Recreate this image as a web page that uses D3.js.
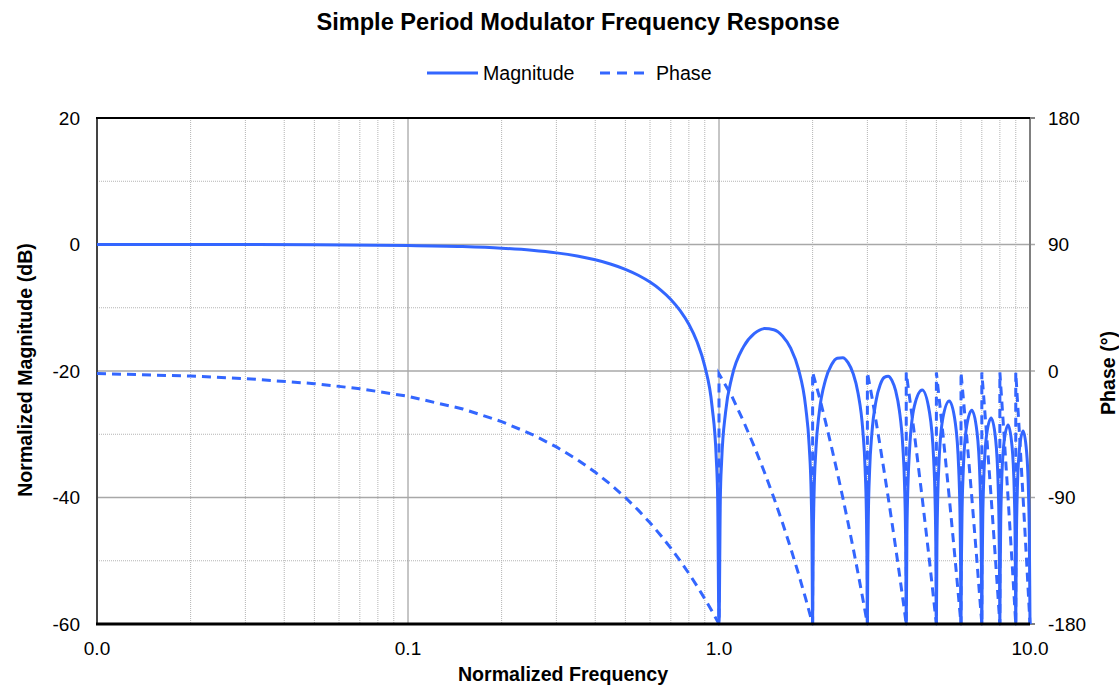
<!DOCTYPE html>
<html>
<head>
<meta charset="utf-8">
<script src="https://cdn.jsdelivr.net/npm/d3@7/dist/d3.min.js"></script>
<style>
body { margin: 0; background: white; }
text { font-family: "Liberation Sans", Arial, sans-serif; fill: #000; }
</style>
</head>
<body>
<svg id="chart"></svg>
<script>
// magnitude (dB), clipped at -60 at the nulls
var magFreq = [
  0.01, 0.02, 0.05, 0.1, 0.15, 0.2, 0.25, 0.3, 0.35, 0.4, 0.45, 0.5, 0.55, 0.6, 0.65, 0.7, 0.75, 0.8, 0.85, 0.9, 0.95, 0.98, 0.99, 1.0,
  1.01, 1.02, 1.05, 1.1, 1.2, 1.3, 1.4, 1.5, 1.6, 1.7, 1.8, 1.9, 1.95, 1.98, 1.99, 2.0,
  2.01, 2.02, 2.05, 2.1, 2.2, 2.3, 2.4, 2.5, 2.6, 2.7, 2.8, 2.9, 2.95, 2.98, 2.99, 3.0,
  3.01, 3.02, 3.05, 3.1, 3.2, 3.3, 3.4, 3.5, 3.6, 3.7, 3.8, 3.9, 3.95, 3.98, 3.99, 4.0,
  4.02, 4.05, 4.1, 4.25, 4.5, 4.75, 4.9, 4.95, 4.98, 5.0,
  5.02, 5.05, 5.1, 5.25, 5.5, 5.75, 5.9, 5.95, 5.98, 6.0,
  6.02, 6.05, 6.1, 6.25, 6.5, 6.75, 6.9, 6.95, 6.98, 7.0,
  7.02, 7.05, 7.1, 7.25, 7.5, 7.75, 7.9, 7.95, 7.98, 8.0,
  8.02, 8.05, 8.1, 8.25, 8.5, 8.75, 8.9, 8.95, 8.98, 9.0,
  9.02, 9.05, 9.1, 9.25, 9.5, 9.75, 9.9, 9.95, 9.98, 10.0
];
var magDb = [
  -0.001, -0.006, -0.036, -0.143, -0.324, -0.58, -0.912, -1.326, -1.827, -2.42, -3.115, -3.92, -4.858, -5.94, -7.203, -8.686, -10.454, -12.62, -15.39, -19.23, -25.61, -33.81, -39.91, -60,
  -40.09, -34.16, -26.48, -20.97, -16.15, -14.06, -13.30, -13.47, -14.46, -16.39, -19.67, -25.72, -31.85, -39.92, -45.98, -60,
  -46.07, -40.09, -32.29, -26.59, -21.41, -19.02, -17.98, -17.90, -18.68, -20.41, -23.51, -29.39, -35.45, -43.47, -49.52, -60,
  -49.57, -43.58, -35.74, -29.97, -24.67, -22.15, -21.01, -20.82, -21.51, -23.15, -26.16, -31.96, -37.99, -45.98, -52.02, -60,
  -46.07, -38.20, -32.40, -25.52, -23.01, -26.49, -33.95, -39.95, -47.93, -60,
  -48.00, -40.12, -34.29, -27.36, -24.75, -28.15, -35.56, -41.54, -49.52, -60,
  -49.58, -41.69, -35.85, -28.87, -26.20, -29.54, -36.92, -42.89, -50.86, -60,
  -50.91, -43.02, -37.17, -30.16, -27.44, -30.74, -38.10, -44.06, -52.02, -60,
  -52.07, -44.17, -38.31, -31.28, -28.53, -31.79, -39.13, -45.09, -53.05, -60,
  -53.09, -45.19, -39.32, -32.28, -29.50, -32.73, -40.06, -46.01, -53.97, -60
];

// phase (degrees), wraps back to ~0 at every null
var phaseFreq = [
  0.01, 0.02, 0.03, 0.05, 0.07, 0.1, 0.15, 0.2, 0.25, 0.3, 0.35, 0.4, 0.45, 0.5, 0.55, 0.6, 0.65, 0.7, 0.75, 0.8, 0.85, 0.9, 0.95, 1.0,
  1.0, 1.1, 1.2, 1.3, 1.4, 1.5, 1.6, 1.7, 1.8, 1.9, 2.0,
  2.0, 2.1, 2.2, 2.3, 2.4, 2.5, 2.6, 2.7, 2.8, 2.9, 3.0,
  3.0, 3.1, 3.2, 3.3, 3.4, 3.5, 3.6, 3.7, 3.8, 3.9, 4.0,
  4.0, 4.25, 4.5, 4.75, 5.0,
  5.0, 5.25, 5.5, 5.75, 6.0,
  6.0, 6.25, 6.5, 6.75, 7.0,
  7.0, 7.25, 7.5, 7.75, 8.0,
  8.0, 8.25, 8.5, 8.75, 9.0,
  9.0, 9.25, 9.5, 9.75, 10.0
];
var phaseDeg = [
  -1.8, -3.6, -5.4, -9, -12.6, -18, -27, -36, -45, -54, -63, -72, -81, -90, -99, -108, -117, -126, -135, -144, -153, -162, -171, -180,
  -2, -18, -36, -54, -72, -90, -108, -126, -144, -162, -180,
  -1, -18, -36, -54, -72, -90, -108, -126, -144, -162, -180,
  -1, -18, -36, -54, -72, -90, -108, -126, -144, -162, -180,
  -1, -45, -90, -135, -180,
  -1, -45, -90, -135, -180,
  -1, -45, -90, -135, -180,
  -1, -45, -90, -135, -180,
  -1, -45, -90, -135, -180,
  -1, -45, -90, -135, -180
];

var xTicks = [0.01, 0.1, 1, 10];
var magTicks = [-60, -40, -20, 0, 20];
var phaseTicks = [-180, -90, 0, 90, 180];

var W = 1119, H = 688;
var pLeft = 97, pRight = 1030, pTop = 118, pBottom = 624;
var blue = "#3366ff";

var svg = d3.select("#chart").attr("width", W).attr("height", H);

var x = d3.scaleLog().domain([0.01, 10]).range([pLeft, pRight]);
var yMag = d3.scaleLinear().domain([-60, 20]).range([pBottom, pTop]);
var yPh = d3.scaleLinear().domain([-180, 180]).range([pBottom, pTop]);

svg.append("defs").append("clipPath").attr("id", "plot")
   .append("rect").attr("x", pLeft).attr("y", pTop - 2)
   .attr("width", pRight - pLeft + 2).attr("height", pBottom - pTop + 4);

// minor grid
var minorX = [];
[0.01, 0.1, 1].forEach(function(d) {
  for (var k = 2; k <= 9; ++k) minorX.push(d * k);
});
var minorY = [-50, -30, -10, 10];

var grid = svg.append("g");
grid.selectAll(".mx").data(minorX).enter().append("line")
    .attr("x1", d => x(d)).attr("x2", d => x(d))
    .attr("y1", pTop).attr("y2", pBottom)
    .attr("stroke", "#b4b4b4").attr("stroke-width", 1).attr("stroke-dasharray", "1,1");
grid.selectAll(".my").data(minorY).enter().append("line")
    .attr("x1", pLeft).attr("x2", pRight)
    .attr("y1", d => yMag(d)).attr("y2", d => yMag(d))
    .attr("stroke", "#b4b4b4").attr("stroke-width", 1).attr("stroke-dasharray", "1,1");

// major grid
grid.selectAll(".gx").data([0.1, 1]).enter().append("line")
    .attr("x1", d => x(d)).attr("x2", d => x(d))
    .attr("y1", pTop).attr("y2", pBottom)
    .attr("stroke", "#8c8c8c").attr("stroke-width", 1);
grid.selectAll(".gy").data([-40, -20, 0]).enter().append("line")
    .attr("x1", pLeft).attr("x2", pRight + 5)
    .attr("y1", d => yMag(d)).attr("y2", d => yMag(d))
    .attr("stroke", "#a8a8a8").attr("stroke-width", 1.5);

// plot frame
svg.append("line").attr("x1", pRight).attr("x2", pRight).attr("y1", pTop).attr("y2", pBottom)
   .attr("stroke", "#808080").attr("stroke-width", 2);
svg.append("line").attr("x1", pRight).attr("x2", pRight + 5).attr("y1", pTop).attr("y2", pTop)
   .attr("stroke", "#808080").attr("stroke-width", 2);
svg.append("line").attr("x1", pRight).attr("x2", pRight + 5).attr("y1", pBottom).attr("y2", pBottom)
   .attr("stroke", "#808080").attr("stroke-width", 2);
svg.append("line").attr("x1", pLeft).attr("x2", pLeft).attr("y1", pTop).attr("y2", pBottom)
   .attr("stroke", "#444").attr("stroke-width", 2);
svg.append("line").attr("x1", pLeft - 1).attr("x2", pRight).attr("y1", pTop).attr("y2", pTop)
   .attr("stroke", "#000").attr("stroke-width", 2);

// series
var magLine = d3.line().curve(d3.curveMonotoneX)
    .x((d, i) => x(magFreq[i])).y(d => yMag(d));
var phLine = d3.line()
    .x((d, i) => x(phaseFreq[i])).y(d => yPh(d));

var plot = svg.append("g").attr("clip-path", "url(#plot)");
plot.append("path").datum(phaseDeg)
    .attr("d", phLine).attr("fill", "none").attr("stroke", blue)
    .attr("stroke-width", 3).attr("stroke-dasharray", "9,6");
plot.append("path").datum(magDb)
    .attr("d", magLine).attr("fill", "none").attr("stroke", blue)
    .attr("stroke-width", 3).attr("stroke-linejoin", "round");

svg.append("line").attr("x1", pLeft - 1).attr("x2", pRight).attr("y1", pBottom).attr("y2", pBottom)
   .attr("stroke", "#000").attr("stroke-width", 3);

// tick labels
var fmt = d3.format(".1f");
svg.selectAll(".xt").data(xTicks).enter().append("text")
   .attr("x", d => x(d)).attr("y", 655)
   .attr("text-anchor", "middle").attr("font-size", "19px")
   .text(d => fmt(d));
svg.selectAll(".yl").data(magTicks).enter().append("text")
   .attr("x", 80).attr("y", d => yMag(d)).attr("dy", "0.36em")
   .attr("text-anchor", "end").attr("font-size", "19px")
   .text(d => d);
svg.selectAll(".yr").data(phaseTicks).enter().append("text")
   .attr("x", 1048).attr("y", d => yPh(d)).attr("dy", "0.36em")
   .attr("text-anchor", "start").attr("font-size", "19px")
   .text(d => d);

// titles
svg.append("text").attr("x", 578).attr("y", 30).attr("text-anchor", "middle")
   .attr("font-size", "23.6px").attr("font-weight", "bold")
   .text("Simple Period Modulator Frequency Response");
svg.append("text").attr("x", 563).attr("y", 681).attr("text-anchor", "middle")
   .attr("font-size", "19.6px").attr("font-weight", "bold")
   .text("Normalized Frequency");
svg.append("text").attr("transform", "translate(32,370) rotate(-90)")
   .attr("text-anchor", "middle").attr("font-size", "19.6px").attr("font-weight", "bold")
   .text("Normalized Magnitude (dB)");
svg.append("text").attr("transform", "translate(1115,373) rotate(-90)")
   .attr("text-anchor", "middle").attr("font-size", "19.6px").attr("font-weight", "bold")
   .text("Phase (°)");

// legend
var legend = svg.append("g");
legend.append("line").attr("x1", 427).attr("x2", 478).attr("y1", 73).attr("y2", 73)
      .attr("stroke", blue).attr("stroke-width", 3);
legend.append("text").attr("x", 483).attr("y", 80).attr("font-size", "19.6px").text("Magnitude");
legend.append("line").attr("x1", 600).attr("x2", 651).attr("y1", 73).attr("y2", 73)
      .attr("stroke", blue).attr("stroke-width", 3).attr("stroke-dasharray", "10,7");
legend.append("text").attr("x", 656).attr("y", 80).attr("font-size", "19.6px").text("Phase");
</script>
</body>
</html>
